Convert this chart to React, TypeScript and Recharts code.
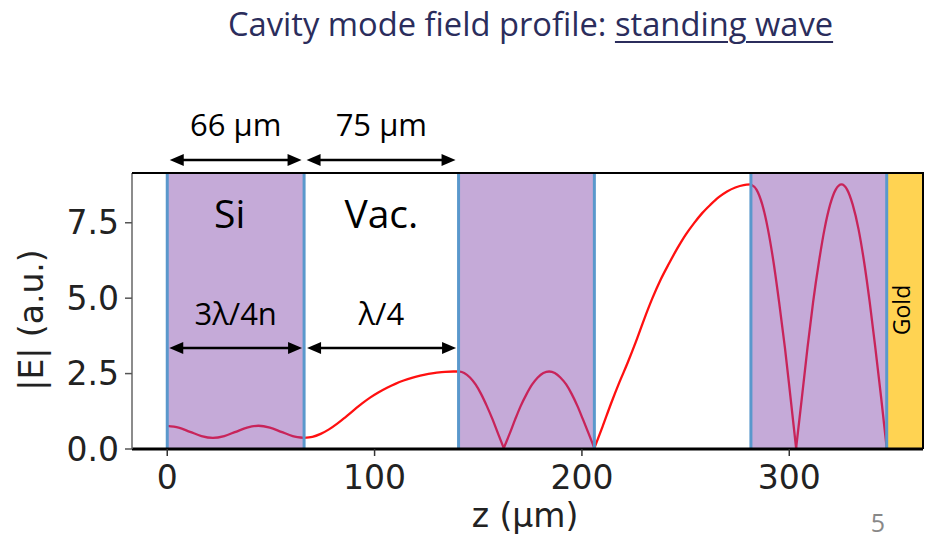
import { LineChart, Line, XAxis, YAxis, ReferenceArea, ReferenceLine } from 'recharts'

// |E|, one pair of arrays per layer (z in µm)
const zSi1 = [0, 5.5, 11, 16.5, 22, 27.5, 33, 38.5, 44, 49.5, 55, 60.5, 66]
const eSi1 = [0.77, 0.71, 0.57, 0.43, 0.37, 0.43, 0.57, 0.71, 0.77, 0.71, 0.57, 0.43, 0.37]

const zVac1 = [66, 70, 74, 78, 82, 86, 90, 94, 98, 102, 106, 110, 114, 118, 122, 126, 130, 134, 138, 140.5]
const eVac1 = [0.37, 0.4, 0.5, 0.65, 0.84, 1.06, 1.29, 1.51, 1.71, 1.88, 2.03, 2.16, 2.27, 2.36, 2.43, 2.49, 2.53, 2.56, 2.57, 2.57]

const zSi2 = [140.5, 143.2, 146.0, 148.7, 151.4, 154.1, 156.9, 159.6, 162.3, 165.1, 167.8, 170.5, 173.3, 176.0, 178.7, 181.4, 184.2, 186.9, 189.6, 192.4, 195.1, 197.8, 200.5, 203.3, 206.0]
const eSi2 = [2.57, 2.52, 2.37, 2.14, 1.82, 1.43, 0.98, 0.5, 0.03, 0.5, 0.98, 1.43, 1.82, 2.14, 2.37, 2.52, 2.57, 2.52, 2.37, 2.14, 1.82, 1.43, 0.98, 0.5, 0.03]

const zVac2 = [206, 210, 214, 218, 222, 226, 230, 234, 238, 242, 246, 250, 254, 258, 262, 266, 270, 274, 278, 281.5]
const eVac2 = [0.03, 0.75, 1.5, 2.2, 2.85, 3.55, 4.3, 5.0, 5.62, 6.15, 6.65, 7.1, 7.48, 7.82, 8.1, 8.35, 8.54, 8.67, 8.75, 8.77]

const zSi3 = [281.5, 284.2, 287.0, 289.7, 292.4, 295.1, 297.9, 300.6, 303.3, 306.1, 308.8, 311.5, 314.3, 317.0, 319.7, 322.4, 325.2, 327.9, 330.6, 333.4, 336.1, 338.8, 341.5, 344.3, 347.0]
const eSi3 = [8.77, 8.6, 8.1, 7.29, 6.2, 4.87, 3.36, 1.71, 0.03, 1.71, 3.36, 4.87, 6.2, 7.29, 8.1, 8.6, 8.77, 8.6, 8.1, 7.29, 6.2, 4.87, 3.36, 1.71, 0.03]

const boundaries = [0, 66, 140.5, 206, 281.5, 347]
const siLayers = [[0, 66], [140.5, 206], [281.5, 347]]
const goldLayer = [347, 364.5]

const xTicks = [0, 100, 200, 300]
const yTicks = [0, 2.5, 5, 7.5]
const xDomain = [-17, 364.5]
const yDomain = [0, 9.15]

const SI_RED = '#C8245A'
const VAC_RED = '#FF1010'

const zip = (zs: number[], es: number[]) => zs.map((z, i) => ({ z, e: es[i] }))

// split a layer at its field nodes so each arch is smoothed on its own and the cusps stay sharp
const arches = (zs: number[], es: number[]) => {
  const pts = zip(zs, es)
  const out: { z: number; e: number }[][] = []
  let start = 0
  for (let i = 1; i < pts.length - 1; i++) {
    if (pts[i].e < pts[i - 1].e && pts[i].e < pts[i + 1].e && pts[i].e < 0.1) {
      out.push(pts.slice(start, i + 1))
      start = i
    }
  }
  out.push(pts.slice(start))
  return out
}

const segments = [
  ...arches(zSi1, eSi1).map((data) => ({ data, color: SI_RED })),
  { data: zip(zVac1, eVac1), color: VAC_RED },
  ...arches(zSi2, eSi2).map((data) => ({ data, color: SI_RED })),
  { data: zip(zVac2, eVac2), color: VAC_RED },
  ...arches(zSi3, eSi3).map((data) => ({ data, color: SI_RED })),
]

const W = 926
const H = 538
const PLOT = { left: 132, top: 173, right: 923, bottom: 449 }

const xPx = (z: number) =>
  PLOT.left + ((z - xDomain[0]) / (xDomain[1] - xDomain[0])) * (PLOT.right - PLOT.left)

const CALIBRI = '"Open Sans", sans-serif'
const MPL = '"DejaVu Sans", sans-serif'

function Arrow({ x1, x2, y }: { x1: number; x2: number; y: number }) {
  const head = 14
  const half = 6
  return (
    <g>
      <line x1={x1 + head - 1} x2={x2 - head + 1} y1={y} y2={y} stroke="#000" strokeWidth={2.5} />
      <polygon points={`${x1},${y} ${x1 + head},${y - half} ${x1 + head},${y + half}`} fill="#000" />
      <polygon points={`${x2},${y} ${x2 - head},${y - half} ${x2 - head},${y + half}`} fill="#000" />
    </g>
  )
}

function Annotations() {
  const si = [boundaries[0], boundaries[1]]
  const vac = [boundaries[1], boundaries[2]]
  const siMid = xPx((si[0] + si[1]) / 2)
  const vacMid = xPx((vac[0] + vac[1]) / 2)
  return (
    <svg width={W} height={H} style={{ position: 'absolute', left: 0, top: 0, pointerEvents: 'none' }}>
      <line x1={PLOT.left} x2={PLOT.right + 1} y1={PLOT.top} y2={PLOT.top} stroke="#000" strokeWidth={2} />
      <line x1={PLOT.right} x2={PLOT.right} y1={PLOT.top} y2={PLOT.bottom} stroke="#000" strokeWidth={2} />

      <text x={siMid} y={136} textAnchor="middle" fontFamily={CALIBRI} fontSize={31} fill="#000">66 µm</text>
      <text x={vacMid} y={136} textAnchor="middle" fontFamily={CALIBRI} fontSize={31} fill="#000">75 µm</text>
      <Arrow x1={xPx(si[0]) + 2.5} x2={xPx(si[1]) - 2.5} y={160} />
      <Arrow x1={xPx(vac[0]) + 2.5} x2={xPx(vac[1]) - 3} y={160} />

      <text x={siMid - 6} y={228} textAnchor="middle" fontFamily={CALIBRI} fontSize={39} fill="#000">Si</text>
      <text x={vacMid} y={228} textAnchor="middle" fontFamily={CALIBRI} fontSize={39} fill="#000">Vac.</text>

      <text x={siMid} y={325} textAnchor="middle" fontFamily={CALIBRI} fontSize={31} fill="#000">3λ/4n</text>
      <text x={vacMid} y={325} textAnchor="middle" fontFamily={CALIBRI} fontSize={31} fill="#000">λ/4</text>
      <Arrow x1={xPx(si[0]) + 2} x2={xPx(si[1]) - 2} y={348} />
      <Arrow x1={xPx(vac[0]) + 3} x2={xPx(vac[1]) - 2.5} y={348} />

      <text
        x={910}
        y={310}
        transform="rotate(-90 910 310)"
        textAnchor="middle"
        fontFamily={CALIBRI}
        fontSize={23}
        fill="#000"
      >
        Gold
      </text>

      <text
        x={43}
        y={320}
        transform="rotate(-90 43 320)"
        textAnchor="middle"
        fontFamily={MPL}
        fontSize={33}
        fill="#222"
      >
        |E| (a.u.)
      </text>
      <text x={525} y={527} textAnchor="middle" fontFamily={MPL} fontSize={33} fill="#222">z (µm)</text>
      <text x={878} y={532} textAnchor="middle" fontFamily={CALIBRI} fontSize={25} fill="#888">5</text>
    </svg>
  )
}

export default function App() {
  return (
    <div style={{ position: 'relative', width: W, height: H, background: '#fff' }}>
      <style>{'body { margin: 0; }'}</style>
      <div
        style={{
          position: 'absolute',
          left: 228,
          top: 8,
          whiteSpace: 'nowrap',
          fontFamily: CALIBRI,
          fontSize: 32.7,
          lineHeight: '32px',
          color: '#2B2D5C',
        }}
      >
        Cavity mode field profile:{' '}
        <span style={{ textDecoration: 'underline', textUnderlineOffset: 5, textDecorationThickness: 2 }}>
          standing wave
        </span>
      </div>
      <LineChart
        width={W}
        height={H}
        margin={{ top: PLOT.top, right: W - PLOT.right, left: PLOT.left - 80, bottom: H - PLOT.bottom - 40 }}
      >
        {siLayers.map(([a, b]) => (
          <ReferenceArea key={`si-${a}`} x1={a} x2={b} y1={yDomain[0]} y2={yDomain[1]} fill="#C5AAD8" fillOpacity={1} stroke="none" />
        ))}
        <ReferenceArea x1={goldLayer[0]} x2={goldLayer[1]} y1={yDomain[0]} y2={yDomain[1]} fill="#FFD352" fillOpacity={1} stroke="none" />
        <XAxis
          type="number"
          dataKey="z"
          domain={xDomain}
          ticks={xTicks}
          allowDataOverflow
          height={40}
          tickSize={7}
          tickMargin={10}
          axisLine={{ stroke: '#000', strokeWidth: 3 }}
          tickLine={{ stroke: '#333', strokeWidth: 1.5 }}
          tick={{ fontSize: 33, fill: '#222', fontFamily: MPL }}
        />
        <YAxis
          type="number"
          domain={yDomain}
          ticks={yTicks}
          allowDataOverflow
          width={80}
          tickSize={7}
          tickMargin={6}
          tickFormatter={(v: number) => v.toFixed(1)}
          axisLine={{ stroke: '#666', strokeWidth: 1.5 }}
          tickLine={{ stroke: '#555', strokeWidth: 1.5 }}
          tick={{ fontSize: 33, fill: '#222', fontFamily: MPL }}
        />
        {segments.map((s, i) => (
          <Line
            key={`seg-${i}`}
            data={s.data}
            dataKey="e"
            type="monotone"
            stroke={s.color}
            strokeWidth={2.3}
            dot={false}
            activeDot={false}
            isAnimationActive={false}
          />
        ))}
        {boundaries.map((b) => (
          <ReferenceLine key={`b-${b}`} x={b} stroke="#5A98CC" strokeWidth={3} />
        ))}
      </LineChart>
      <Annotations />
    </div>
  )
}
